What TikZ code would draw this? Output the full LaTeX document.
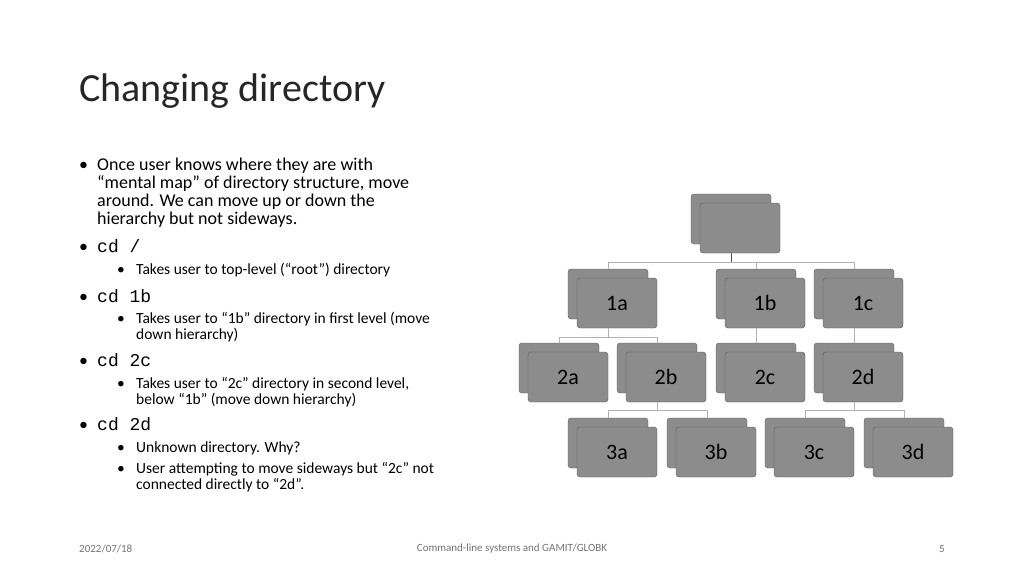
\documentclass[tikz,border=0pt]{standalone}
\usepackage{fontspec}
\setmainfont{Carlito}
\newfontfamily\mono{Liberation Mono}
\begin{document}
\begin{tikzpicture}[x=1pt,y=-1pt,
  box/.style={draw=black!65,fill=black!45,rounded corners=3pt,minimum width=80pt,minimum height=50pt,inner sep=0pt,font=\fontsize{22}{22}\selectfont},
  backbox/.style={box},
  conn/.style={draw=black!30,line width=0.8pt},
  ln/.style={anchor=base west,inner sep=0pt,font=\fontsize{18}{18}\selectfont},
  sl/.style={anchor=base west,inner sep=0pt,font=\fontsize{15.5}{15.5}\selectfont},
  ft/.style={inner sep=0pt,text=black!55,font=\fontsize{11}{11}\selectfont}]
\useasboundingbox (0,0) rectangle (1024,576);
\node[anchor=base west,inner sep=0pt,font=\fontsize{40}{40}\selectfont,text=black!85] (title) at (79,101) {Changing directory};
% bullets
\node[ln] (b1) at (79,170) {•};
\node[ln] (t1) at (97,170) {Once user knows where they are with};
\node[ln] (t2) at (97,188) {“mental map” of directory structure, move};
\node[ln] (t3) at (97,206) {around. We can move up or down the};
\node[ln] (t4) at (97,224) {hierarchy but not sideways.};
\node[ln] (b2) at (79,252) {•};
\node[ln] (c1) at (97,252) {\mono cd /};
\node[sl] (s1b) at (117,274) {•};
\node[sl] (s1) at (136,274) {Takes user to top-level (“root”) directory};
\node[ln] (b3) at (79,302) {•};
\node[ln] (c2) at (97,302) {\mono cd 1b};
\node[sl] (s2b) at (117,323) {•};
\node[sl] (s2) at (136,323) {Takes user to “1b” directory in first level (move};
\node[sl] (s2x) at (136,339) {down hierarchy)};
\node[ln] (b4) at (79,366) {•};
\node[ln] (c3) at (97,366) {\mono cd 2c};
\node[sl] (s3b) at (117,388) {•};
\node[sl] (s3) at (136,388) {Takes user to “2c” directory in second level,};
\node[sl] (s3x) at (136,404) {below “1b” (move down hierarchy)};
\node[ln] (b5) at (79,430) {•};
\node[ln] (c4) at (97,430) {\mono cd 2d};
\node[sl] (s4b) at (117,452) {•};
\node[sl] (s4) at (136,452) {Unknown directory. Why?};
\node[sl] (s5b) at (117,473) {•};
\node[sl] (s5) at (136,473) {User attempting to move sideways but “2c” not};
\node[sl] (s5x) at (136,489) {connected directly to “2d”.};
% footer
\node[ft,anchor=west] (f1) at (79,549) {2022/07/18};
\node[ft] (f2) at (512,549) {Command-line systems and GAMIT/GLOBK};
\node[ft] (f3) at (942,549) {5};
% tree
\foreach \n/\x/\y/\t in {r/740/228//, a1/617/303/1a, b1/765/303/1b, c1/863/303/1c,
  a2/568/377/2a, b2/666/377/2b, c2/765/377/2c, d2/863/377/2d,
  a3/617/452/3a, b3/716/452/3b, c3/814/452/3c, d3/913/452/3d}{
  \node[backbox] (\n b) at (\x-9,\y-9) {};
  \node[box] (\n) at (\x,\y) {\t};
}
\draw[conn] (a1b.north) |- (c1b.north |- 0,262) -- (c1b.north);
\draw[conn] (b1b.north) -- (b1b.north |- 0,262);
\draw[draw=black!70,line width=0.8pt] (r.south -| rb.center) -- ++(0,9);
\draw[conn] (a1.south -| a1b.center) -- ++(0,9) -| (a2b.north);
\draw[conn] (a1.south -| a1b.center) -- ++(0,9) -| (b2b.north);
\draw[conn] (b1.south -| b1b.center) -- (c2b.north);
\draw[conn] (c1.south -| c1b.center) -- (d2b.north);
\draw[conn] (b2.south -| b2b.center) -- ++(0,8) -| (a3b.north);
\draw[conn] (b2.south -| b2b.center) -- ++(0,8) -| (b3b.north);
\draw[conn] (d2.south -| d2b.center) -- ++(0,8) -| (c3b.north);
\draw[conn] (d2.south -| d2b.center) -- ++(0,8) -| (d3b.north);
\end{tikzpicture}
\end{document}
